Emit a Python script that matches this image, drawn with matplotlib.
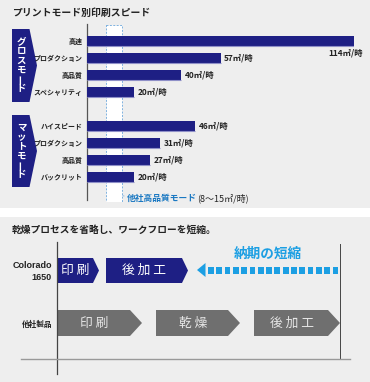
import matplotlib
matplotlib.use("Agg")
import matplotlib.pyplot as plt
from matplotlib.patches import Polygon, Rectangle

plt.rcParams['font.family'] = ['Noto Sans CJK JP', 'DejaVu Sans']

# ---------------- data ----------------
title_top = "プリントモード別印刷スピード"
title_bottom = "乾燥プロセスを省略し、ワークフローを短縮。"
groups = ["グロスモード", "マットモード"]
gloss_categories = ["高速", "プロダクション", "高品質", "スペシャリティ"]
gloss_values = [114, 57, 40, 20]
matte_categories = ["ハイスピード", "プロダクション", "高品質", "バックリット"]
matte_values = [46, 31, 27, 20]
other_range = [8, 15]
other_label = "他社高品質モード"
other_label_range = "(8〜15㎡/時)"
unit = "㎡/時"

row_labels = ["Colorado\n1650", "他社製品"]
colorado_steps = ["印 刷", "後 加 工"]
colorado_spans = [[57, 93], [106, 182]]
other_steps = ["印 刷", "乾 燥", "後 加 工"]
other_spans = [[57, 130], [156, 228], [254, 328]]
shorten_label = "納期の短縮"

# ---------------- colours ----------------
BG = "#eeeeee"
NAVY = "#1e1f84"
NAVY_EDGE = "#8f90c8"
GRAY_ARROW = "#6f6f6f"
BLUE = "#1c9fe3"
LABEL_BLUE = "#1a78c2"
TXT = "#222222"

W, H = 370, 382
fig = plt.figure(figsize=(W / 100, H / 100), dpi=100)
fig.patch.set_facecolor("white")

# overlay axes in pixel coords
ov = fig.add_axes([0, 0, 1, 1], zorder=0)
ov.set_xlim(0, W)
ov.set_ylim(H, 0)
ov.axis("off")

# panel backgrounds
ov.add_patch(Rectangle((0, 0), W, 208, facecolor=BG, edgecolor="none"))
ov.add_patch(Rectangle((0, 217), W, H - 217, facecolor=BG, edgecolor="none"))

# titles
ov.text(12, 13, title_top, fontsize=7.1, color=TXT, va="center", ha="left", fontweight="bold")
ov.text(12, 230, title_bottom, fontsize=7.0, color=TXT, va="center", ha="left", fontweight="bold")

# ---------------- top bar chart ----------------
x_left_px, x_right_px = 87, 354
y_top_px, y_bot_px = 24, 202
step = 17.0
y0_px = 41
ax = fig.add_axes([x_left_px / W, 1 - y_bot_px / H,
                   (x_right_px - x_left_px) / W, (y_bot_px - y_top_px) / H], zorder=1)
ax.set_facecolor("none")
ax.set_xlim(0, max(gloss_values))
ax.set_ylim((y_bot_px - y0_px) / step, (y_top_px - y0_px) / step)

cats = gloss_categories + matte_categories
vals = gloss_values + matte_values
ypos = list(range(len(gloss_categories))) + [len(gloss_categories) + 1 + i for i in range(len(matte_categories))]

# other-company range box
ax.add_patch(Rectangle((other_range[0], (y_top_px + 1 - y0_px) / step),
                       other_range[1] - other_range[0], (y_bot_px - y_top_px - 1) / step,
                       facecolor="white", edgecolor="#7fb2e0", linestyle=(0, (2, 1.5)),
                       linewidth=0.7, zorder=1))

bh = 10 / step
ax.barh(ypos, vals, height=bh, color=NAVY, zorder=3, left=0)
for y, v in zip(ypos, vals):
    ax.plot([0, v], [y + bh / 2, y + bh / 2], color=NAVY_EDGE, lw=0.8, zorder=3.5,
            solid_capstyle="butt")

for i, (y, v, c) in enumerate(zip(ypos, vals, cats)):
    ax.text(-2.0, y, c, ha="right", va="center", fontsize=5.0, color=TXT, fontweight="bold")
    lab = f"{v}{unit}"
    if v == max(vals):
        ax.text(v + 4, y + 0.72, lab, ha="right", va="center", fontsize=6.0,
                color=TXT, fontweight="bold")
    else:
        ax.text(v + 1.6, y, lab, ha="left", va="center", fontsize=6.0,
                color=TXT, fontweight="bold")

for s in ["top", "right", "bottom"]:
    ax.spines[s].set_visible(False)
ax.spines["left"].set_color("#555555")
ax.spines["left"].set_linewidth(0.9)
ax.spines["left"].set_bounds((y_top_px - y0_px) / step, (200 - y0_px) / step)
ax.set_xticks([])
ax.set_yticks([])

# label for other-company range
ov.plot([111, 124], [193, 196], color="#7fb2e0", lw=0.6)
t1 = ov.text(127, 198, other_label, fontsize=6.3, color=LABEL_BLUE, fontweight="bold",
             va="center", ha="left")
fig.canvas.draw()
bb = t1.get_window_extent()
x_end = bb.x1 * 1.0
ov.text(x_end + 0.5, 198, other_label_range, fontsize=6.5, color=TXT, va="center", ha="left")

# group pentagon labels
def pentagon(x0, x1, tip, ytop, ybot, color):
    ym = (ytop + ybot) / 2
    return Polygon([(x0, ytop), (x1, ytop), (tip, ym), (x1, ybot), (x0, ybot)],
                   closed=True, facecolor=color, edgecolor="none")

for g, (yt, yb) in zip(groups, [(29, 102), (115, 187)]):
    ov.add_patch(pentagon(12, 29.5, 37, yt, yb, NAVY))
    cy0 = yt + 13
    for k, ch in enumerate(g):
        cy = cy0 + k * 9.2
        rot = 90 if ch == "ー" else 0
        ov.text(21.5, cy, ch, fontsize=6.8, color="white", fontweight="bold",
                ha="center", va="center", rotation=rot)

# ---------------- bottom flow diagram ----------------
ov.plot([57, 57], [242, 374], color="#444444", lw=0.9)
ov.plot([339.5, 339.5], [244, 359], color="#444444", lw=0.7)
ov.plot([21, 350], [359, 359], color="#999999", lw=1.0)

ov.text(52, 266, "Colorado", ha="right", va="center", fontsize=6.5, color=TXT,
        fontweight="bold", family="Liberation Sans")
ov.text(52, 277, "1650", ha="right", va="center", fontsize=6.5, color=TXT,
        fontweight="bold", family="Liberation Sans")
ov.text(52, 324, row_labels[1], ha="right", va="center", fontsize=5.5, color=TXT,
        fontweight="bold")

for lab, (x0, x1) in zip(colorado_steps, colorado_spans):
    ov.add_patch(pentagon(x0, x1, x1 + 6, 258, 283, NAVY))
    ov.text((x0 + x1) / 2, 270.5, lab, ha="center", va="center", fontsize=9.2,
            color="white")

for lab, (x0, x1) in zip(other_steps, other_spans):
    ov.add_patch(pentagon(x0, x1, x1 + 12, 310, 336, GRAY_ARROW))
    ov.text((x0 + x1) / 2 + 1, 323, lab, ha="center", va="center", fontsize=9.2,
            color="#e6e6e6")

# shortening arrow
ov.add_patch(Polygon([(197, 270), (205.5, 263), (205.5, 277)], closed=True,
                     facecolor=BLUE, edgecolor="none"))
xd = 208.0
while xd + 5.5 <= 340:
    ov.add_patch(Rectangle((xd, 266.5), 5.8, 7, facecolor=BLUE, edgecolor="none"))
    xd += 8.3
ov.text(268, 254, shorten_label, ha="center", va="center", fontsize=9.8,
        color=BLUE, fontweight="bold")

fig.savefig("out.png", dpi=100, facecolor=fig.get_facecolor())
